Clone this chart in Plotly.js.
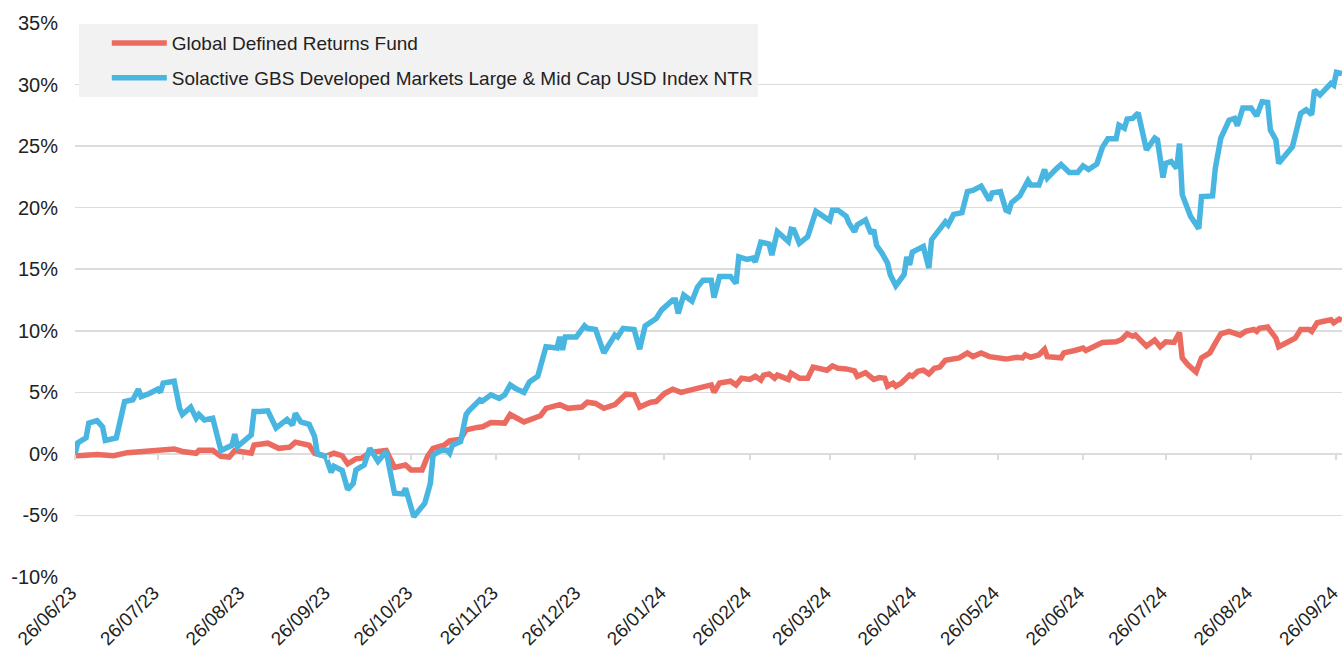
<!DOCTYPE html>
<html>
<head>
<meta charset="utf-8">
<script src="https://cdn.plot.ly/plotly-3.0.1.min.js"></script>
<style>
html,body{margin:0;padding:0;background:#fff;}
#chart{width:1344px;height:665px;}
</style>
</head>
<body>
<div id="chart"></div>
<script>
const seriesNames = ["Global Defined Returns Fund", "Solactive GBS Developed Markets Large & Mid Cap USD Index NTR"];

const fundDates = ["2023-06-26","2023-06-27","2023-07-04","2023-07-10","2023-07-15","2023-07-21","2023-07-27","2023-08-01","2023-08-04","2023-08-09","2023-08-10","2023-08-15","2023-08-18","2023-08-21","2023-08-23","2023-08-29","2023-08-30","2023-09-04","2023-09-08","2023-09-12","2023-09-14","2023-09-19","2023-09-21","2023-09-25","2023-09-28","2023-10-01","2023-10-03","2023-10-06","2023-10-08","2023-10-11","2023-10-14","2023-10-17","2023-10-20","2023-10-23","2023-10-24","2023-10-26","2023-10-30","2023-11-01","2023-11-03","2023-11-07","2023-11-09","2023-11-13","2023-11-15","2023-11-19","2023-11-21","2023-11-24","2023-11-29","2023-12-01","2023-12-05","2023-12-06","2023-12-12","2023-12-14","2023-12-19","2023-12-22","2023-12-27","2023-12-29","2024-01-01","2024-01-04","2024-01-08","2024-01-12","2024-01-15","2024-01-17","2024-01-21","2024-01-23","2024-01-26","2024-01-29","2024-02-01","2024-02-04","2024-02-09","2024-02-12","2024-02-13","2024-02-15","2024-02-19","2024-02-21","2024-02-23","2024-02-26","2024-02-28","2024-03-01","2024-03-02","2024-03-04","2024-03-06","2024-03-07","2024-03-11","2024-03-12","2024-03-15","2024-03-18","2024-03-20","2024-03-25","2024-03-27","2024-03-29","2024-04-01","2024-04-04","2024-04-05","2024-04-08","2024-04-11","2024-04-13","2024-04-15","2024-04-16","2024-04-18","2024-04-19","2024-04-21","2024-04-24","2024-04-25","2024-04-27","2024-04-29","2024-05-01","2024-05-03","2024-05-05","2024-05-07","2024-05-12","2024-05-15","2024-05-17","2024-05-20","2024-05-23","2024-05-29","2024-06-02","2024-06-04","2024-06-05","2024-06-07","2024-06-10","2024-06-12","2024-06-13","2024-06-18","2024-06-19","2024-06-23","2024-06-26","2024-06-27","2024-06-30","2024-07-03","2024-07-08","2024-07-10","2024-07-12","2024-07-14","2024-07-15","2024-07-19","2024-07-22","2024-07-24","2024-07-26","2024-07-29","2024-07-31","2024-08-01","2024-08-03","2024-08-06","2024-08-08","2024-08-11","2024-08-13","2024-08-15","2024-08-18","2024-08-21","2024-08-22","2024-08-24","2024-08-27","2024-08-28","2024-08-29","2024-09-01","2024-09-04","2024-09-05","2024-09-09","2024-09-11","2024-09-13","2024-09-16","2024-09-17","2024-09-19","2024-09-21","2024-09-24","2024-09-25","2024-09-27","2024-09-28"];
const fundValues = [-0.1,-0.15,-0.05,-0.15,0.1,0.2,0.3,0.4,0.2,0.05,0.3,0.3,-0.2,-0.27,0.27,0.05,0.73,0.87,0.45,0.55,0.95,0.7,0.05,-0.2,0.05,-0.15,-0.8,-0.4,-0.35,0.1,0.2,0.27,-1.1,-1.0,-0.9,-1.3,-1.3,-0.2,0.45,0.7,1.05,1.2,1.95,2.15,2.2,2.55,2.5,3.2,2.75,2.6,3.1,3.7,4.0,3.7,3.8,4.2,4.1,3.7,4.0,4.85,4.8,3.8,4.2,4.25,4.9,5.25,5.0,5.15,5.35,5.6,5.0,5.75,5.9,5.6,6.15,6.05,6.3,6.0,6.4,6.5,6.15,6.4,6.05,6.55,6.15,6.15,7.05,6.8,7.15,6.95,6.9,6.75,6.3,6.6,6.05,6.2,6.15,5.5,5.75,5.5,5.75,6.4,6.3,6.7,6.8,6.5,6.95,7.05,7.6,7.8,8.2,7.9,8.2,7.9,7.7,7.85,7.8,8.05,7.85,8.05,8.5,7.9,7.8,8.2,8.4,8.6,8.4,8.7,9.05,9.1,9.3,9.75,9.55,9.65,8.75,9.25,8.7,9.1,9.05,9.85,7.8,7.25,6.65,7.8,8.2,9.0,9.75,9.95,9.8,9.65,9.95,10.1,9.95,10.2,10.3,9.4,8.7,9.1,9.4,10.1,10.1,9.95,10.65,10.75,10.9,10.65,10.95,10.85];

const indexDates = ["2023-06-26","2023-06-27","2023-06-30","2023-07-01","2023-07-04","2023-07-06","2023-07-07","2023-07-11","2023-07-14","2023-07-17","2023-07-19","2023-07-20","2023-07-23","2023-07-26","2023-07-27","2023-07-28","2023-08-01","2023-08-03","2023-08-04","2023-08-07","2023-08-09","2023-08-10","2023-08-12","2023-08-15","2023-08-18","2023-08-20","2023-08-22","2023-08-23","2023-08-24","2023-08-29","2023-08-30","2023-09-01","2023-09-04","2023-09-07","2023-09-11","2023-09-13","2023-09-14","2023-09-16","2023-09-19","2023-09-21","2023-09-22","2023-09-25","2023-09-27","2023-09-28","2023-10-01","2023-10-03","2023-10-05","2023-10-06","2023-10-09","2023-10-11","2023-10-14","2023-10-17","2023-10-20","2023-10-23","2023-10-24","2023-10-27","2023-10-31","2023-11-02","2023-11-03","2023-11-06","2023-11-08","2023-11-09","2023-11-10","2023-11-13","2023-11-15","2023-11-16","2023-11-20","2023-11-21","2023-11-24","2023-11-27","2023-11-29","2023-12-01","2023-12-03","2023-12-06","2023-12-08","2023-12-11","2023-12-12","2023-12-14","2023-12-18","2023-12-19","2023-12-20","2023-12-21","2023-12-25","2023-12-28","2023-12-29","2024-01-01","2024-01-04","2024-01-06","2024-01-08","2024-01-09","2024-01-11","2024-01-15","2024-01-17","2024-01-19","2024-01-23","2024-01-25","2024-01-29","2024-01-30","2024-01-31","2024-02-02","2024-02-05","2024-02-07","2024-02-09","2024-02-12","2024-02-13","2024-02-15","2024-02-19","2024-02-21","2024-02-22","2024-02-25","2024-02-27","2024-02-28","2024-03-01","2024-03-04","2024-03-05","2024-03-07","2024-03-11","2024-03-12","2024-03-13","2024-03-15","2024-03-18","2024-03-21","2024-03-26","2024-03-27","2024-03-29","2024-04-01","2024-04-02","2024-04-04","2024-04-05","2024-04-08","2024-04-10","2024-04-11","2024-04-12","2024-04-14","2024-04-16","2024-04-17","2024-04-19","2024-04-22","2024-04-23","2024-04-24","2024-04-25","2024-04-29","2024-05-01","2024-05-02","2024-05-04","2024-05-07","2024-05-08","2024-05-10","2024-05-13","2024-05-15","2024-05-17","2024-05-20","2024-05-23","2024-05-24","2024-05-27","2024-05-29","2024-05-30","2024-05-31","2024-06-03","2024-06-06","2024-06-07","2024-06-10","2024-06-12","2024-06-13","2024-06-16","2024-06-18","2024-06-21","2024-06-24","2024-06-26","2024-06-28","2024-07-01","2024-07-03","2024-07-05","2024-07-08","2024-07-09","2024-07-11","2024-07-12","2024-07-14","2024-07-16","2024-07-19","2024-07-22","2024-07-23","2024-07-25","2024-07-26","2024-07-28","2024-07-30","2024-07-31","2024-08-01","2024-08-04","2024-08-07","2024-08-08","2024-08-12","2024-08-13","2024-08-15","2024-08-18","2024-08-20","2024-08-21","2024-08-23","2024-08-26","2024-08-28","2024-08-30","2024-09-01","2024-09-02","2024-09-04","2024-09-05","2024-09-10","2024-09-13","2024-09-15","2024-09-17","2024-09-18","2024-09-20","2024-09-22","2024-09-24","2024-09-25","2024-09-26","2024-09-28"];
const indexValues = [0.0,0.9,1.3,2.5,2.7,2.2,1.1,1.3,4.25,4.4,5.25,4.65,4.9,5.25,5.0,5.75,5.9,3.7,3.2,3.8,2.9,3.2,2.75,2.9,0.27,0.55,0.7,1.6,0.6,1.55,3.45,3.45,3.5,2.1,2.8,2.35,3.3,2.6,2.4,1.4,0.0,-0.2,-1.5,-1.0,-1.35,-2.9,-2.4,-1.3,-0.9,0.45,-0.6,0.2,-3.2,-3.25,-2.8,-5.1,-4.0,-2.4,-0.1,0.3,0.3,0.05,0.7,1.0,3.2,3.5,4.4,4.3,4.8,4.5,4.8,5.6,5.3,5.0,5.85,6.3,7.1,8.7,8.6,9.5,8.45,9.5,9.5,10.4,10.2,10.1,8.2,9.0,9.65,9.5,10.2,10.1,8.5,10.4,11.0,11.7,12.5,12.5,11.4,12.9,12.4,13.55,14.1,14.1,12.7,14.4,14.4,13.85,16.0,15.8,15.9,15.6,17.2,17.05,16.15,18.05,17.25,18.25,18.2,17.1,17.65,19.7,18.95,19.8,19.8,19.3,18.75,18.05,18.6,19.0,17.9,18.2,16.95,16.3,15.5,14.55,13.65,14.55,16.0,15.35,16.4,16.85,15.1,17.4,18.05,18.85,18.6,19.45,19.6,21.3,21.4,21.75,20.6,21.2,21.3,19.8,19.7,20.4,20.95,22.2,21.85,21.85,23.1,22.4,23.1,23.5,22.85,22.85,23.4,23.1,23.55,24.9,25.6,25.6,26.7,26.45,27.2,27.25,27.7,24.7,25.65,25.5,22.45,23.6,23.75,23.2,25.2,21.05,19.3,18.3,20.9,20.95,23.2,25.65,27.1,27.25,26.65,28.1,28.1,27.45,28.6,28.55,26.3,25.5,23.6,24.95,27.65,27.95,27.55,29.55,29.15,29.6,30.1,29.95,31.0,30.9];

const tickDates = ["2023-06-26","2023-07-26","2023-08-26","2023-09-26","2023-10-26","2023-11-26","2023-12-26","2024-01-26","2024-02-26","2024-03-26","2024-04-26","2024-05-26","2024-06-26","2024-07-26","2024-08-26","2024-09-26"];
const tickLabels = ["26/06/23","26/07/23","26/08/23","26/09/23","26/10/23","26/11/23","26/12/23","26/01/24","26/02/24","26/03/24","26/04/24","26/05/24","26/06/24","26/07/24","26/08/24","26/09/24"];
const yTicks = [-10,-5,0,5,10,15,20,25,30,35];
const yTickLabels = ["-10%","-5%","0%","5%","10%","15%","20%","25%","30%","35%"];

const FONT = '"Liberation Sans", Arial, sans-serif';
const RED = '#EC6B60';
const BLUE = '#48B6E1';
const GRID = '#dcdcdc';
const xRange = ['2023-06-26', '2024-09-28'];

const traces = [
  {x: fundDates, y: fundValues, name: seriesNames[0], type: 'scatter', mode: 'lines',
   line: {color: RED, width: 5.5}, legendgroup: 'a', xaxis: 'x', yaxis: 'y'},
  {x: indexDates, y: indexValues, name: seriesNames[1], type: 'scatter', mode: 'lines',
   line: {color: BLUE, width: 5.5}, legendgroup: 'b', xaxis: 'x2', yaxis: 'y'}
];

const layout = {
  width: 1344, height: 665,
  margin: {l: 75, r: 2, t: 23, b: 88},
  paper_bgcolor: '#ffffff', plot_bgcolor: '#ffffff',
  font: {family: FONT, color: '#222222', size: 18},
  showlegend: true,
  legend: {x: 0.003, y: 0.998, xanchor: 'left', yanchor: 'top', bgcolor: '#f2f2f2',
           font: {family: FONT, size: 19, color: '#222222'}, tracegroupgap: 7,
           traceorder: 'grouped', indentation: 28, itemwidth: 55},
  xaxis: {type: 'date', range: xRange, tickvals: tickDates, ticktext: tickLabels,
          tickangle: -45, showgrid: false, zeroline: false, showline: false, ticks: '',
          ticklabelshift: -4,
          tickfont: {family: FONT, size: 19, color: '#222222'}, fixedrange: true},
  xaxis2: {type: 'date', range: xRange, overlaying: 'x', anchor: 'free', position: 10/45,
           tickvals: tickDates, showticklabels: false, ticks: 'outside', ticklen: 5,
           tickcolor: GRID, tickwidth: 2, showgrid: false, zeroline: false, showline: false},
  yaxis: {range: [-10, 35], tickvals: yTicks, ticktext: yTickLabels, showgrid: true,
          gridcolor: GRID, gridwidth: 1.5, zeroline: false, showline: false, ticks: '',
          ticklabelstandoff: 16, tickfont: {family: FONT, size: 20, color: '#222222'}}
};

Plotly.newPlot('chart', traces, layout, {displayModeBar: false, staticPlot: true});
</script>
</body>
</html>
